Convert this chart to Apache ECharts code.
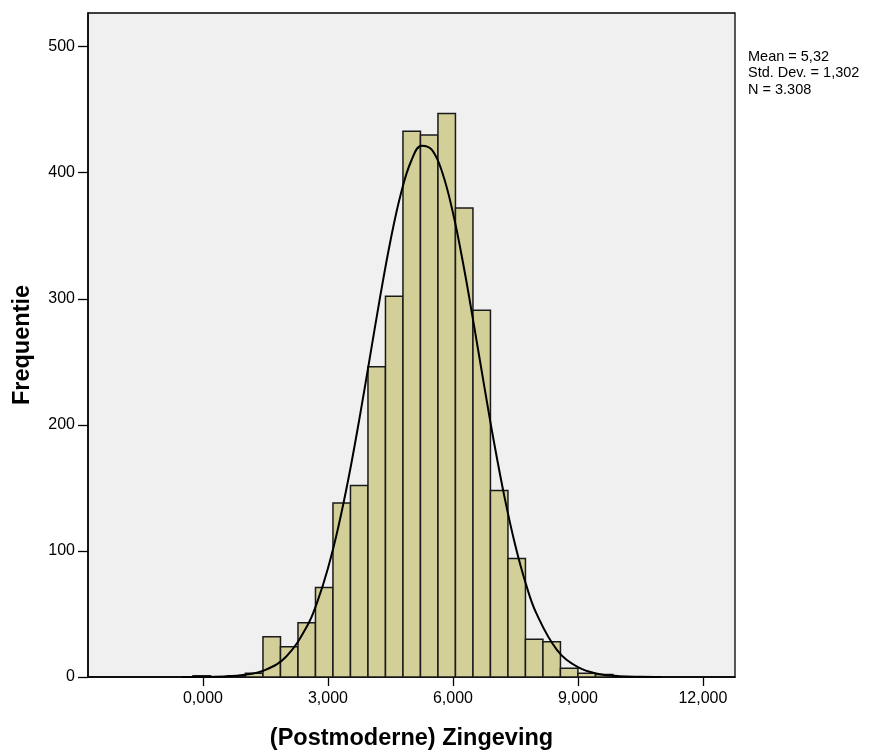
<!DOCTYPE html>
<html>
<head>
<meta charset="utf-8">
<script src="https://cdn.jsdelivr.net/npm/echarts@6/dist/echarts.min.js"></script>
<style>
html,body{margin:0;padding:0;background:#fff;}
#chart{width:882px;height:752px;}
</style>
</head>
<body>
<div id="chart"></div>
<script>
// Histogram bin edges (25 edges -> 24 bins) and frequencies
const binEdges = [-0.24, 0.18, 0.60, 1.02, 1.44, 1.86, 2.28, 2.70, 3.12, 3.54, 3.96, 4.38, 4.80, 5.22, 5.64, 6.06, 6.48, 6.90, 7.32, 7.74, 8.16, 8.58, 9.00, 9.42, 9.84];
const binCounts = [1, 0, 1, 3, 32, 24, 43, 71, 138, 152, 246, 302, 433, 430, 447, 372, 291, 148, 94, 30, 28, 7, 3, 2];

// Normal curve (x, frequency)
const curveX = [-0.5, 0.5, 1.0, 1.5, 2.0, 2.5, 2.75, 3.0, 3.25, 3.5, 3.75, 4.0, 4.25, 4.5, 4.75, 5.0, 5.25, 5.5, 5.75, 6.0, 6.25, 6.5, 6.75, 7.0, 7.25, 7.5, 7.75, 8.0, 8.5, 9.0, 9.5, 10.0, 10.5, 11.0];
const curveY = [0.01, 0.45, 1.7, 5.7, 16.3, 40.4, 60.2, 86.3, 119.2, 158.8, 204.0, 252.4, 301.1, 346.1, 383.4, 409.5, 421.4, 418.0, 399.6, 368.2, 327.0, 279.9, 230.9, 183.6, 140.7, 103.9, 73.9, 50.7, 21.4, 7.8, 2.4, 0.66, 0.15, 0.03];

const xTicks = [0, 3, 6, 9, 12];
const yTicks = [0, 100, 200, 300, 400, 500];
const statsLines = ['Mean = 5,32', 'Std. Dev. = 1,302', 'N = 3.308'];

const histData = binCounts.map((c, i) => [binEdges[i], binEdges[i + 1], c]);
const curveData = curveX.map((x, i) => [x, curveY[i]]);

const FONT = '"Liberation Sans", Arial, sans-serif';

const chart = echarts.init(document.getElementById('chart'), null, {renderer: 'canvas'});
chart.setOption({
  animation: false,
  backgroundColor: '#ffffff',
  grid: {
    left: 88, right: 147, top: 13, bottom: 75,
    containLabel: false, outerBoundsMode: 'none',
    show: true, backgroundColor: '#F0F0F0', borderColor: '#000', borderWidth: 1.3
  },
  xAxis: {
    type: 'value',
    min: -2.76, max: 12.77,
    name: '(Postmoderne) Zingeving',
    nameLocation: 'middle',
    nameGap: 50,
    nameTextStyle: {fontFamily: FONT, fontSize: 23.5, fontWeight: 'bold', color: '#000'},
    axisLine: {show: true, onZero: false, lineStyle: {color: '#000', width: 1.5}},
    axisTick: {show: true, length: 9, customValues: xTicks, lineStyle: {color: '#000', width: 1.3}},
    axisLabel: {
      customValues: xTicks, margin: 14,
      fontFamily: FONT, fontSize: 16, color: '#000',
      formatter: v => v.toFixed(3).replace('.', ',')
    },
    splitLine: {show: false}
  },
  yAxis: {
    type: 'value',
    min: 0, max: 526.7,
    name: 'Frequentie',
    nameLocation: 'middle',
    nameGap: 53,
    nameRotate: 90,
    nameTextStyle: {fontFamily: FONT, fontSize: 23.5, fontWeight: 'bold', color: '#000'},
    axisLine: {show: true, onZero: false, lineStyle: {color: '#000', width: 1.5}},
    axisTick: {show: true, length: 10, customValues: yTicks, lineStyle: {color: '#000', width: 1.3}},
    axisLabel: {
      customValues: yTicks, margin: 13,
      fontFamily: FONT, fontSize: 16, color: '#000'
    },
    splitLine: {show: false}
  },
  series: [
    {
      type: 'custom',
      data: histData,
      encode: {x: [0, 1], y: 2},
      renderItem: function (params, api) {
        const c = api.value(2);
        if (!c) return null;
        const p0 = api.coord([api.value(0), c]);
        const p1 = api.coord([api.value(1), 0]);
        return {
          type: 'rect',
          shape: {x: p0[0], y: p0[1], width: p1[0] - p0[0], height: p1[1] - p0[1]},
          style: {fill: '#D3CF98', stroke: '#1a1a1a', lineWidth: 1.5}
        };
      },
      z: 2
    },
    {
      type: 'line',
      data: curveData,
      smooth: 0.4,
      showSymbol: false,
      lineStyle: {color: '#000', width: 2},
      z: 3
    }
  ],
  graphic: [{
    type: 'text',
    left: 748, top: 49,
    style: {
      text: statsLines.join('\n'),
      fontFamily: FONT, fontSize: 14.5, lineHeight: 16.3, fill: '#000'
    }
  }]
});
</script>
</body>
</html>
